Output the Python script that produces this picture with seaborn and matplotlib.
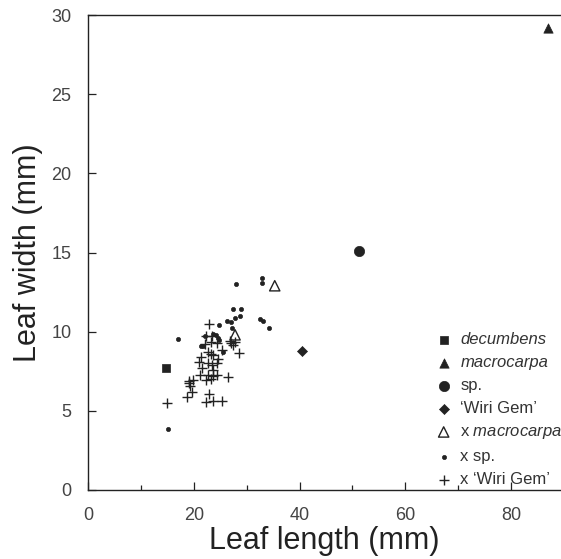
import matplotlib
matplotlib.use("Agg")
import matplotlib.pyplot as plt
import seaborn as sns
import pandas as pd

# leaf length / width (mm) per taxon
decumbens_len = [14.8]
decumbens_wid = [7.7]

macrocarpa_len = [86.9]
macrocarpa_wid = [29.2]

sp_len = [51.3]
sp_wid = [15.1]

wiri_len = [40.4]
wiri_wid = [8.75]

x_macrocarpa_len = [27.8, 35.3]
x_macrocarpa_wid = [9.8, 12.9]

x_sp_len = [17.0, 15.1, 27.5, 29.0, 26.2, 27.0, 28.7, 27.8, 27.3, 32.5, 33.1, 34.3,
            24.8, 23.7, 24.2, 24.5, 24.8, 22.1, 25.6, 21.3, 21.7, 32.8, 32.9, 28.0]
x_sp_wid = [9.56, 3.85, 11.43, 11.43, 10.68, 10.63, 10.99, 10.85, 10.25, 10.78, 10.66, 10.21,
            10.42, 9.85, 9.79, 9.58, 9.48, 9.73, 8.70, 9.10, 9.1, 13.4, 13.1, 13.0]

x_wiri_len = [22.9, 26.8, 27.7, 28.6, 26.4, 19.1, 19.3, 19.6, 18.8, 22.9, 22.3, 23.6, 25.4, 15.0,
              22.4, 23.4, 22.1, 23.3, 24.3, 25.3, 22.7, 23.2, 23.6, 24.6, 21.3, 21.0, 22.7, 23.4,
              24.3, 23.7, 21.5, 21.2, 22.7, 23.7, 24.3, 22.3, 23.3, 19.9, 19.0, 27.0, 27.5]
x_wiri_wid = [10.49, 9.41, 9.33, 8.64, 7.16, 6.89, 6.57, 6.21, 5.89, 6.06, 5.58, 5.62, 5.62, 5.51,
              9.73, 9.75, 9.20, 9.37, 9.30, 8.84, 8.74, 8.59, 8.53, 8.26, 8.38, 8.10, 8.00, 7.90,
              8.00, 7.58, 7.69, 7.26, 7.26, 7.20, 7.26, 6.95, 6.99, 6.95, 6.78, 9.30, 9.16]

sns.set_style("ticks")
plt.rcParams["font.family"] = ["Liberation Sans", "DejaVu Sans"]
plt.rcParams["mathtext.fontset"] = "custom"
plt.rcParams["mathtext.it"] = "Liberation Sans:italic"
plt.rcParams["mathtext.rm"] = "Liberation Sans"

ink = "#222222"
groups = [
    (decumbens_len, decumbens_wid, "decumbens", "s", 32, True, "italic"),
    (macrocarpa_len, macrocarpa_wid, "macrocarpa", "^", 45, True, "italic"),
    (sp_len, sp_wid, "sp.", "o", 55, True, None),
    (wiri_len, wiri_wid, "\u2018Wiri Gem\u2019", "D", 26, True, None),
    (x_macrocarpa_len, x_macrocarpa_wid, r"x $\mathit{macrocarpa}$", "^", 55, False, None),
    (x_sp_len, x_sp_wid, "x sp.", "o", 9, True, None),
    (x_wiri_len, x_wiri_wid, "x \u2018Wiri Gem\u2019", "+", 55, True, None),
]

fig = plt.figure(figsize=(5.61, 5.59), dpi=100)
ax = fig.add_axes([88 / 561, 69 / 559, 473 / 561, 475 / 559])

for xs, ys, name, mk, size, filled, _ in groups:
    df = pd.DataFrame({"length": xs, "width": ys})
    if mk == "+":
        sns.scatterplot(data=df, x="length", y="width", marker=mk, s=size, color=ink,
                        linewidth=1.0, label=name, ax=ax)
    elif filled:
        sns.scatterplot(data=df, x="length", y="width", marker=mk, s=size, color=ink,
                        edgecolor=ink, linewidth=0.5, label=name, ax=ax)
    else:
        sns.scatterplot(data=df, x="length", y="width", marker=mk, s=size, facecolor="none",
                        edgecolor=ink, linewidth=1.0, label=name, ax=ax)

ax.set_xlim(0, 473 / 5.29)
ax.set_ylim(0, 30)
ax.set_xticks([0, 20, 40, 60, 80])
ax.set_xticks([10, 30, 50, 70], minor=True)
ax.set_yticks([0, 5, 10, 15, 20, 25, 30])
ax.tick_params(axis="both", which="major", direction="in", length=6, width=0.9,
               color=ink, labelsize=13, labelcolor="#444444", pad=12)
ax.tick_params(axis="x", which="minor", direction="in", length=3.5, width=0.9, color=ink)
ax.spines["right"].set_visible(False)
for side in ["left", "bottom", "top"]:
    ax.spines[side].set_color(ink)
    ax.spines[side].set_linewidth(1.0)

ax.set_xlabel("Leaf length (mm)", fontsize=22, color=ink, labelpad=2)
ax.set_ylabel("Leaf width (mm)", fontsize=22, color=ink, labelpad=6)

leg = ax.legend(loc="upper left", bbox_to_anchor=(427 / 561, 1 - 324 / 559),
                bbox_transform=fig.transFigure, frameon=False, fontsize=12,
                handletextpad=0.5, labelspacing=0.48, handlelength=1.0, borderpad=0)
for txt, g in zip(leg.get_texts(), groups):
    txt.set_color("#333333")
    if g[6] == "italic":
        txt.set_style("italic")

fig.savefig("out.png", dpi=100)
